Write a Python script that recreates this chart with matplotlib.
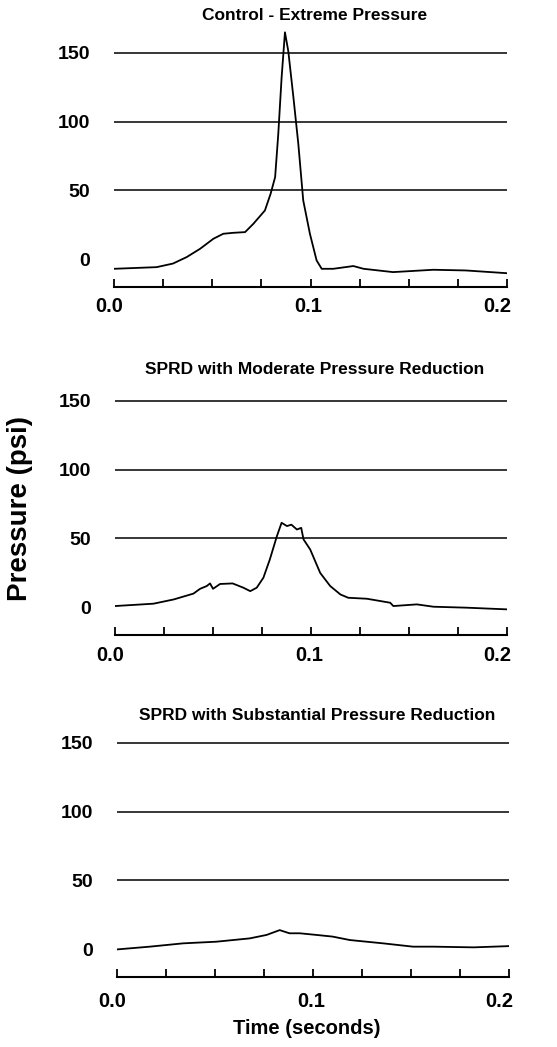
import matplotlib.pyplot as plt
import matplotlib.transforms as mtransforms
from matplotlib.ticker import MultipleLocator, FixedLocator

plt.rcParams['font.family'] = ['Liberation Sans', 'DejaVu Sans']
plt.rcParams['font.weight'] = 'bold'

# --- data (time in s, pressure in psi) ---
t_control = [0.0, 0.0217, 0.030, 0.037, 0.0438, 0.0506, 0.0556, 0.0607, 0.0667,
             0.0709, 0.0768, 0.0797, 0.082, 0.0836, 0.0853, 0.087, 0.0887, 0.0913,
             0.0938, 0.0963, 0.0997, 0.1031, 0.1057, 0.1116, 0.1218, 0.127, 0.142,
             0.1625, 0.179, 0.2]
p_control = [-6.8, -5.6, -3.0, 1.7, 7.7, 15.0, 18.6, 19.3, 19.8,
             25.8, 35.5, 47.6, 59.7, 91.0, 132.0, 164.7, 151.0, 117.6,
             83.8, 42.8, 18.6, -0.7, -6.8, -6.8, -4.8, -6.8, -9.2,
             -7.5, -8.0, -10.0]

t_moderate = [0.0, 0.0196, 0.030, 0.0357, 0.040, 0.0434, 0.0468, 0.0485, 0.050,
              0.0536, 0.060, 0.0655, 0.069, 0.0723, 0.0757, 0.079, 0.0826, 0.085,
              0.0877, 0.090, 0.0928, 0.095, 0.0962, 0.0996, 0.1047, 0.1098, 0.115,
              0.119, 0.1285, 0.1404, 0.142, 0.154, 0.1625, 0.1796, 0.193, 0.2]
p_moderate = [1.0, 2.7, 5.8, 8.2, 10.0, 13.5, 15.5, 17.4, 13.5,
              17.0, 17.4, 14.3, 11.8, 14.3, 21.5, 34.8, 51.7, 61.4,
              59.0, 60.0, 56.5, 57.7, 49.3, 42.0, 25.0, 15.5, 9.4,
              7.0, 6.3, 3.4, 1.0, 2.2, 0.5, -0.2, -1.0, -1.4]

t_subst = [0.0, 0.0167, 0.0337, 0.0507, 0.0677, 0.0763, 0.083, 0.088, 0.0933,
           0.1018, 0.110, 0.1188, 0.1358, 0.151, 0.1614, 0.182, 0.2]
p_subst = [0.0, 2.0, 4.4, 5.6, 8.0, 10.5, 14.0, 11.7, 11.7,
           10.5, 9.3, 6.8, 4.4, 2.0, 2.0, 1.5, 2.4]

titles = ['Control - Extreme Pressure',
          'SPRD with Moderate Pressure Reduction',
          'SPRD with Substantial Pressure Reduction']
y_ticks = [0, 50, 100, 150]
x_labels = ['0.0', '0.1', '0.2']

W, H = 557, 1047
fig = plt.figure(figsize=(W / 100, H / 100), dpi=100)

# pixel layout of each panel: (left, right, axis line y, top y, title y, label pad)
panels = [(114, 507, 287, 25, 15, 7),
          (115, 507, 635, 373, 370, 8),
          (117, 509, 977, 715, 715, 11)]
series = [(t_control, p_control), (t_moderate, p_moderate), (t_subst, p_subst)]
label_shift = [-5, -2, -10]  # x tick labels sit a bit left of their ticks

for (l, r, yb, yt, ytit, pad), (t, p), title in zip(panels, series, titles):
    ax = fig.add_axes([l / W, 1 - yb / H, (r - l) / W, (yb - yt) / H])
    ax.plot(t, p, color='black', lw=1.3)
    ax.set_xlim(0, 0.2)
    ax.set_ylim(-20, 170)
    for s in ['top', 'left', 'right']:
        ax.spines[s].set_visible(False)
    ax.spines['bottom'].set_linewidth(1.5)

    ax.set_yticks(y_ticks)
    ax.set_yticklabels([str(v) for v in y_ticks], fontsize=14, fontweight='bold')
    ax.tick_params(axis='y', length=0, pad=17)
    ax.yaxis.grid(True, color='black', lw=1.1)
    ax.get_ygridlines()[0].set_visible(False)

    ax.xaxis.set_major_locator(FixedLocator([0.0, 0.1, 0.2]))
    ax.set_xticklabels(x_labels, fontsize=14.5, fontweight='bold')
    ax.xaxis.set_minor_locator(MultipleLocator(0.025))
    ax.tick_params(axis='x', which='both', direction='in', length=6,
                   width=1.3, pad=pad)
    for lab, dx in zip(ax.get_xticklabels(), label_shift):
        off = mtransforms.ScaledTranslation(dx / 100, 0, fig.dpi_scale_trans)
        lab.set_transform(lab.get_transform() + off)
    ax.set_axisbelow(True)

    fig.text(((l + r) / 2 + 4) / W, 1 - ytit / H, title, ha='center',
             va='center', fontsize=12.5, fontweight='bold')

fig.text(20 / W, 1 - 508 / H, 'Pressure (psi)', rotation=90, ha='center',
         va='center', fontsize=20, fontweight='bold')
fig.text(307 / W, 1 - 1028 / H, 'Time (seconds)', ha='center', va='center',
         fontsize=14.5, fontweight='bold')

fig.savefig('out.png', dpi=100, facecolor='white')
